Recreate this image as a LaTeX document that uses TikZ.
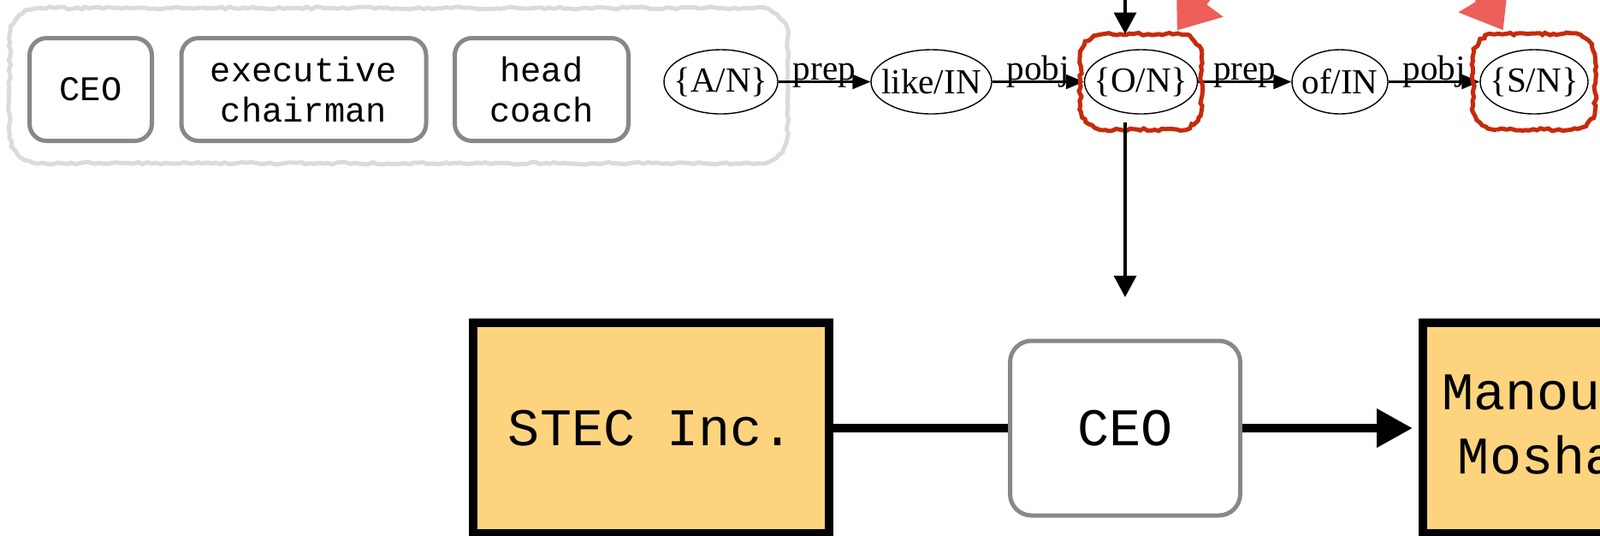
\documentclass[tikz,border=0pt]{standalone}
\usepackage{fontspec}
\setmainfont{Liberation Serif}
\setmonofont{Liberation Mono}
\usetikzlibrary{arrows.meta,shapes.geometric,fit,calc,decorations.pathmorphing}
\definecolor{boxgray}{RGB}{134,136,140}
\definecolor{boxfill}{RGB}{253,212,125}
\definecolor{markred}{RGB}{200,42,10}
\definecolor{markpink}{RGB}{236,95,90}
\definecolor{framegray}{RGB}{218,219,221}
\newcommand\softbox[3]{%
  \draw[#1] ([xshift=#3]#2.south west) -- ([xshift=-#3]#2.south east)
    arc[start angle=-90,end angle=0,radius=#3] -- ([yshift=-#3]#2.north east)
    arc[start angle=0,end angle=90,radius=#3] -- ([xshift=#3]#2.north west)
    arc[start angle=90,end angle=180,radius=#3] -- ([yshift=#3]#2.south west)
    arc[start angle=180,end angle=270,radius=#3] -- cycle;}
\begin{document}
\begin{tikzpicture}[
    phrase/.style={draw=boxgray, line width=0.05cm, rounded corners=0.2cm, align=center, minimum height=1.20cm, font=\ttfamily\fontsize{11.5}{13.5}\selectfont},
    gvnode/.style={ellipse, draw, line width=0.4pt, inner xsep=-1cm, inner ysep=0pt, minimum height=0.75cm, font=\fontsize{11.7}{14}\selectfont},
    gvedge/.style={line width=0.6pt, -{Triangle[length=0.21cm,width=0.17cm]}},
    gvlabel/.style={midway, anchor=base, yshift=0.02cm, inner sep=0pt, font=\fontsize{11.7}{14}\selectfont},
    marked/.style={markred, line width=0.05cm, decorate, decoration={random steps, segment length=1.2pt, amplitude=0.45pt}},
    roughframe/.style={framegray, line width=0.05cm, decorate, decoration={random steps, segment length=1.5pt, amplitude=0.4pt}},
    flow/.style={line width=0.033cm, -{Triangle[length=0.25cm,width=0.26cm]}},
    entity/.style={draw, line width=0.1cm, fill=boxfill, minimum width=4.16cm, minimum height=2.46cm, align=center, font=\ttfamily\fontsize{17.6}{21.3}\selectfont},
    relation/.style={draw=boxgray, line width=0.05cm, rounded corners=0.25cm, minimum width=2.69cm, minimum height=2.04cm, font=\ttfamily\fontsize{17.6}{21.3}\selectfont},
    hint/.style={markpink, line width=0.2cm, shorten >=0.05cm, -{Triangle[length=0.45cm,width=0.65cm]}}
  ]
  \useasboundingbox (0,0) rectangle (18.7,-6.25);
  \clip (0,0) rectangle (18.7,-6.25);

  \node[fit={(0.12,-0.10) (9.20,-1.90)}, inner sep=0pt] (frame) {};
  \softbox{roughframe}{frame}{0.35cm}
  \foreach \x/\w/\t/\n in {1.06/1.43/CEO/p1, 3.55/2.86/{executive\\chairman}/p2, 6.33/2.03/{head\\coach}/p3}{
    \node[phrase, minimum width=\w cm] (\n) at (\x,-1.045) {\t};
  }

  \foreach \x/\w/\t/\n in {8.425/1.33/{\{A/N\}}/gA, 10.885/1.41/{like/IN}/gB, 13.335/1.32/{\{O/N\}}/gC, 15.66/1.12/{of/IN}/gD, 17.93/1.26/{\{S/N\}}/gE}{
    \node[gvnode, minimum width=\w cm] (\n) at (\x,-0.955) {\t};
  }
  \foreach \a/\b/\l in {gA/gB/prep, gB/gC/pobj, gC/gD/prep, gD/gE/pobj}{
    \draw[gvedge] (\a) -- node[gvlabel] {\l} (\b);
  }
  \node[fit=(gC), inner xsep=0.035cm, inner ysep=0.17cm] (mC) {};
  \node[fit=(gE), inner xsep=0.07cm, inner ysep=0.17cm] (mE) {};
  \softbox{marked}{mC}{0.28cm}
  \softbox{marked}{mE}{0.28cm}

  \node[entity] (stec) at (7.61,-5.00) {STEC Inc.};
  \node[relation] (rel) at (13.15,-5.00) {CEO};
  \node[entity] (manou) at (18.71,-5.00) {Manouchehr\\Moshayedi};
  \draw[line width=0.1cm] (stec) -- (rel);
  \draw[line width=0.1cm, shorten >=0.07cm, -{Triangle[length=0.42cm,width=0.43cm]}] (rel) -- (manou);

  \coordinate (src) at (13.15,0.3);
  \draw[flow] (src) -- (src |- mC.north);
  \draw[flow] ($(gC.south -| rel.north)+(0,-0.09)$) -- ($(rel.north)+(0,0.485)$);

  \coordinate (h1) at (14.36,0.46);
  \coordinate (h2) at (17.06,0.49);
  \draw[hint] (h1) -- (mC.55);
  \draw[hint] (h2) -- (mE.121);
\end{tikzpicture}
\end{document}
